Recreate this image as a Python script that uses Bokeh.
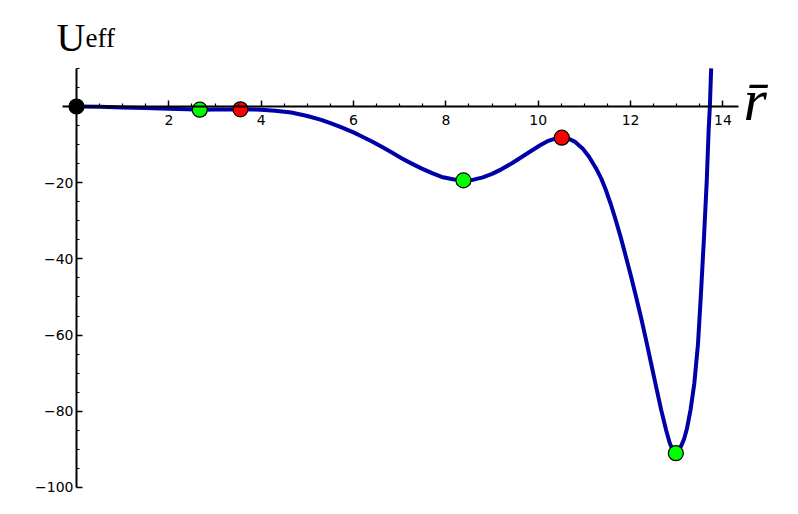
from bokeh.plotting import figure
from bokeh.models import FixedTicker, Label, Range1d
from bokeh.embed import file_html
from bokeh.resources import INLINE

# ---- data ----
r_vals = [0.0, 0.5, 1.0, 1.5, 2.0, 2.4, 2.67, 3.0, 3.3, 3.55, 3.8, 4.0, 4.3, 4.65,
          5.0, 5.3, 5.5, 5.74, 6.0, 6.17, 6.4, 6.61, 6.83, 7.04, 7.26, 7.48, 7.7,
          7.91, 8.15, 8.38, 8.6, 8.8, 9.0, 9.2, 9.43, 9.65, 9.87, 10.05, 10.2,
          10.35, 10.51, 10.65, 10.8, 10.96, 11.1, 11.25, 11.36, 11.46, 11.57,
          11.68, 11.79, 11.9, 12.01, 12.12, 12.23, 12.33, 12.44, 12.55, 12.66,
          12.77, 12.85, 12.92, 12.98, 13.04, 13.1, 13.16, 13.22, 13.3, 13.38,
          13.46, 13.52, 13.59, 13.65, 13.69, 13.717, 13.745]
u_vals = [0.0, -0.1, -0.25, -0.42, -0.6, -0.75, -0.85, -0.82, -0.77, -0.75, -0.78,
          -0.85, -1.1, -1.6, -2.5, -3.5, -4.4, -5.5, -6.8, -7.8, -9.2, -10.6, -12.1,
          -13.6, -15.0, -16.3, -17.5, -18.5, -19.1, -19.4, -19.2, -18.6, -17.7,
          -16.5, -14.9, -13.2, -11.5, -10.1, -9.1, -8.5, -8.2, -8.4, -9.3, -11.0,
          -13.2, -16.2, -18.8, -21.8, -25.6, -29.9, -34.5, -39.5, -44.6, -50.0,
          -55.6, -61.0, -67.2, -73.4, -79.5, -85.0, -88.4, -90.4, -91.0, -90.4,
          -89.0, -87.2, -84.6, -79.5, -72.7, -62.3, -50.0, -34.3, -19.4, -6.3,
          0.0, 10.0]

crit_r = [0.0, 2.67, 3.55, 8.38, 10.51, 12.98]
crit_u = [0.0, -0.85, -0.75, -19.4, -8.2, -91.0]
crit_colors = ["#000000", "#00ff00", "#ff0000", "#00ff00", "#ff0000", "#00ff00"]

x_major = [2, 4, 6, 8, 10, 12, 14]
x_minor = [0.5, 1, 1.5, 2.5, 3, 3.5, 4.5, 5, 5.5, 6.5, 7, 7.5, 8.5, 9, 9.5,
           10.5, 11, 11.5, 12.5, 13, 13.5]
y_major = [-100, -80, -60, -40, -20]
y_minor = [-95, -90, -85, -75, -70, -65, -55, -50, -45, -35, -30, -25, -15,
           -10, -5, 5, 10]

# ---- figure ----
p = figure(width=782, height=498, output_backend="svg", toolbar_location=None,
           x_range=Range1d(-1.646, 15.29), y_range=Range1d(-102.9, 27.82),
           min_border=0)
p.outline_line_color = None
p.grid.visible = False
p.background_fill_color = "white"

for ax in (p.xaxis[0], p.yaxis[0]):
    ax.fixed_location = 0
    ax.axis_line_width = 2
    ax.axis_line_color = "black"
    ax.major_tick_line_color = "black"
    ax.minor_tick_line_color = "black"
    ax.major_tick_line_width = 1.5
    ax.minor_tick_line_width = 1.2
    ax.major_tick_in = 6
    ax.major_tick_out = 0
    ax.minor_tick_in = 3
    ax.minor_tick_out = 0
    ax.major_label_text_font = "DejaVu Sans"
    ax.major_label_text_font_size = "14px"
    ax.major_label_text_color = "black"

p.xaxis.ticker = FixedTicker(ticks=x_major, minor_ticks=x_minor)
p.yaxis.ticker = FixedTicker(ticks=y_major, minor_ticks=y_minor)
p.xaxis.bounds = (-0.3, 14.33)
p.yaxis.bounds = (-100, 10)
p.xaxis.major_label_standoff = 9
p.yaxis.major_label_standoff = 3
p.yaxis.major_label_overrides = {v: "\u2212" + str(-v) for v in y_major}

p.line(r_vals, u_vals, line_color="#0000a8", line_width=4, line_join="round")
p.scatter(crit_r, crit_u, size=15, fill_color=crit_colors,
          line_color="black", line_width=1.2)

# axis names
p.add_layout(Label(x=56, y=461, x_units="screen", y_units="screen",
                   text="U", text_font="Liberation Serif", text_font_size="40px",
                   text_baseline="alphabetic", text_color="black"))
p.add_layout(Label(x=85, y=461, x_units="screen", y_units="screen",
                   text="eff", text_font="Liberation Serif", text_font_size="27px",
                   text_baseline="alphabetic", text_color="black"))
p.add_layout(Label(x=743, y=399, x_units="screen", y_units="screen",
                   text="r\u0304", text_font="Liberation Serif", text_font_style="italic",
                   text_font_size="60px", text_baseline="alphabetic", text_color="black"))

open("out.html", "w").write(file_html(p, INLINE))
